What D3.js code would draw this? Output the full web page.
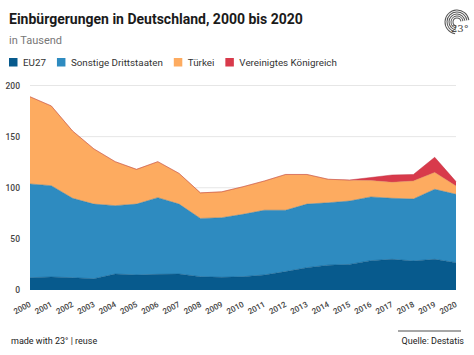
<!DOCTYPE html>
<html><head><meta charset="utf-8">
<script src="https://cdn.jsdelivr.net/npm/d3@7"></script>
<style>
html,body{margin:0;padding:0;background:#fff;}
svg{display:block;font-family:Roboto,"Noto Sans",sans-serif;}
</style></head>
<body><svg id="c" width="474" height="355"></svg>
<script>
const years = [2000,2001,2002,2003,2004,2005,2006,2007,2008,2009,2010,2011,2012,2013,2014,2015,2016,2017,2018,2019,2020];
const eu27 = [12,12.7,12,11,15.6,14.7,15.3,15.6,13,12.4,13,14.7,18,21.8,24.3,25,28.7,30,28.4,30,26.7];
const sonstige = [91.7,89.3,77.7,73,66.9,69.3,75,68.4,57,58.3,61,63.3,60,62.2,61,62,62.3,59.7,60.6,68.5,66.9];
const tuerkei = [85.3,78,65.8,54,43,34,35.2,30,25,25.3,27,28.6,35,29,23,20.3,16,15.6,17.6,16.5,8.1];
const uk = [0,0,0,0,0,0,0,0,0,0,0,0,0,0,0,0.3,3,7.2,6.4,14.8,4.3];
const seriesNames = ["EU27","Sonstige Drittstaaten","Türkei","Vereinigtes Königreich"];
const colors = ["#075a8d","#2e8bc0","#fdab60","#d83a4b"];
const yTicks = [0,50,100,150,200];

const svg = d3.select("#c");
const x = d3.scaleLinear().domain([2000,2020]).range([30,456]);
const y = d3.scaleLinear().domain([0,200]).range([290,85.5]);

// title
svg.append("text").attr("x",9).attr("y",24).attr("font-size",14).attr("font-weight",700).attr("fill","#1a1a1a").text("Einbürgerungen in Deutschland, 2000 bis 2020");
svg.append("text").attr("x",9).attr("y",44).attr("font-size",11).attr("fill","#777").text("in Tausend");

// legend
const leg = svg.append("g");
let lx = 9;
seriesNames.forEach((n,i)=>{
  leg.append("rect").attr("x",lx).attr("y",58).attr("width",8.5).attr("height",8.5).attr("fill",colors[i]);
  const t = leg.append("text").attr("x",lx+14).attr("y",66).attr("font-size",9.8).attr("fill","#333").text(n);
  lx += 14 + t.node().getComputedTextLength() + 11;
});

// grid
svg.append("g").selectAll("line").data(yTicks.slice(1)).join("line")
  .attr("x1",30).attr("x2",456).attr("y1",d=>y(d)).attr("y2",d=>y(d))
  .attr("stroke","#e6e6e6").attr("stroke-width",1);

// stack
const rows = years.map((yr,i)=>({year:yr, "EU27":eu27[i], "Sonstige Drittstaaten":sonstige[i], "Türkei":tuerkei[i], "Vereinigtes Königreich":uk[i]}));
const stack = d3.stack().keys(seriesNames)(rows);
const area = d3.area().x(d=>x(d.data.year)).y0(d=>y(d[0])).y1(d=>y(d[1]));
const line = d3.line().x(d=>x(d.data.year)).y(d=>y(d[1]));
svg.append("g").selectAll("path").data(stack).join("path")
  .attr("d",area).attr("fill",(d,i)=>colors[i]);
svg.append("g").selectAll("path").data(stack).join("path")
  .attr("d",line).attr("fill","none").attr("stroke",(d,i)=>d3.color(colors[i]).darker(0.35)).attr("stroke-width",0.6).attr("stroke-opacity",0.8);

// y axis
const ya = svg.append("g").attr("transform","translate(20,0)")
  .call(d3.axisLeft(y).tickValues(yTicks).tickSize(0).tickPadding(0));
ya.select(".domain").remove();
ya.selectAll("text").attr("font-size",8.5).attr("fill","#444").attr("font-family","Roboto,sans-serif").attr("font-weight",500);

// x axis
const xa = svg.append("g").attr("transform","translate(0,291)")
  .call(d3.axisBottom(x).tickValues(years).tickFormat(d3.format("d")).tickSize(0).tickPadding(0));
xa.select(".domain").remove();
xa.selectAll("text").attr("font-size",8).attr("fill","#444").attr("font-family","Roboto,sans-serif").attr("font-weight",500)
  .attr("text-anchor","end").attr("dy",0).attr("transform","translate(1,15) rotate(-28)");

// footer
svg.append("text").attr("x",11).attr("y",344).attr("font-size",9).attr("fill","#222").text("made with 23° | reuse");
svg.append("line").attr("x1",398).attr("x2",461).attr("y1",331).attr("y2",331).attr("stroke","#888").attr("stroke-width",1.5);
svg.append("text").attr("x",464).attr("y",344).attr("text-anchor","end").attr("font-size",9).attr("fill","#222").text("Quelle: Destatis");

// logo
const lg = svg.append("g").attr("transform","translate(457,22)");
[4,6,8,10,12].forEach(r=>{
  lg.append("path").attr("d",d3.arc()({innerRadius:r-0.5,outerRadius:r+0.5,startAngle:-Math.PI*0.95,endAngle:Math.PI*0.45})).attr("fill","#555");
});
svg.append("text").attr("x",451).attr("y",32).attr("font-size",10).attr("font-family","DejaVu Serif,serif").attr("fill","#444").text("23°");
</script></body></html>
